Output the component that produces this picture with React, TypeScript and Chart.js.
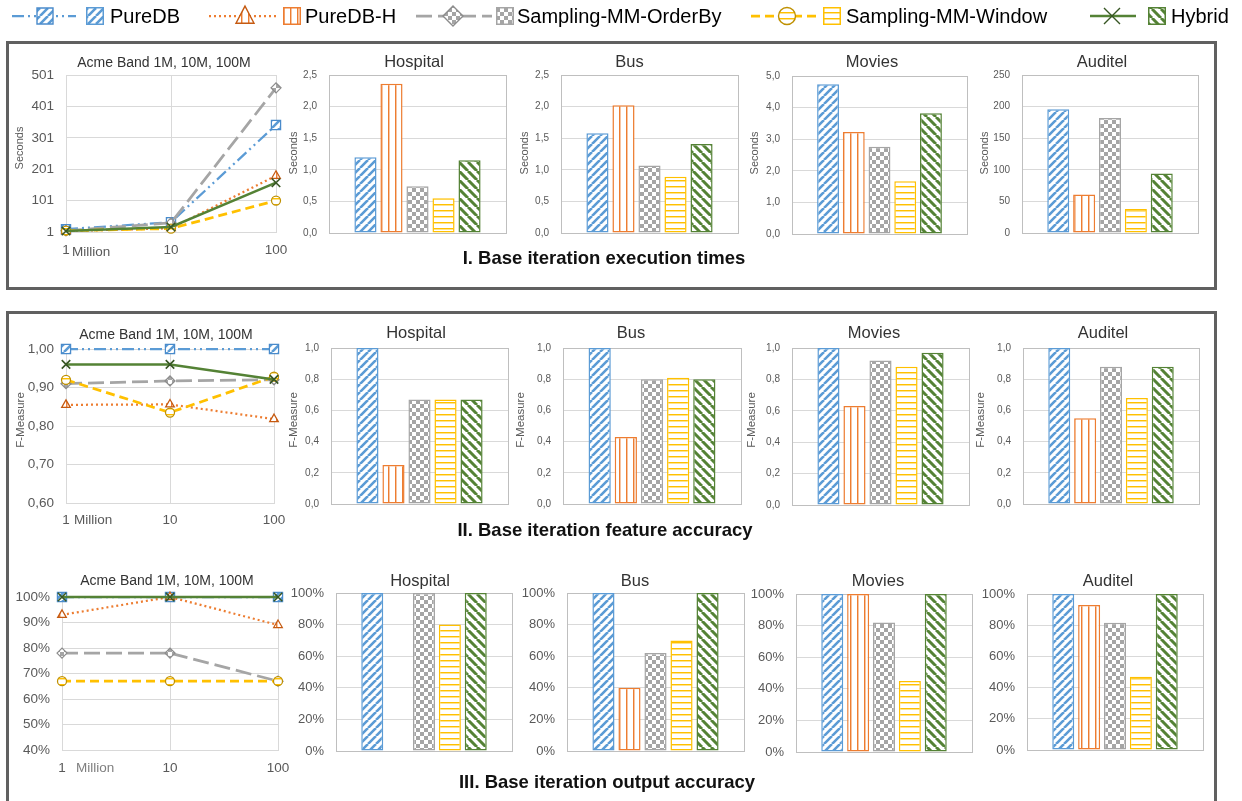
import React, { useEffect, useRef } from "react";
import { Chart, registerables } from "chart.js";

Chart.register(...registerables);

const W = 1242;
const H = 801;
const FONT = "'Liberation Sans', Arial, sans-serif";
Chart.defaults.font.family = FONT;

// ---------------- data ----------------
const METHODS = ["PureDB", "PureDB-H", "Sampling-MM-OrderBy", "Sampling-MM-Window", "Hybrid"];
const SIZE_LABELS = ["1", "10", "100"];
const DATASET_NAMES = ["Hospital", "Bus", "Movies", "Auditel"];
const ACME_TITLE = "Acme Band 1M, 10M, 100M";
const SECTION_TITLES = [
  "I. Base iteration execution times",
  "II. Base iteration feature accuracy",
  "III. Base iteration output accuracy",
];

// I. execution times (seconds)
const acmeTimePureDB = [10, 32, 342];
const acmeTimePureDBH = [4, 13, 180];
const acmeTimeOrderBy = [5, 30, 460];
const acmeTimeWindow = [5, 12, 101];
const acmeTimeHybrid = [4, 17, 158];
const timeHospital = [1.2, 2.36, 0.74, 0.55, 1.15];
const timeBus = [1.58, 2.02, 1.07, 0.89, 1.41];
const timeMovies = [4.74, 3.23, 2.76, 1.67, 3.82];
const timeAuditel = [196, 61, 182, 38, 94];

// II. feature accuracy (F-Measure)
const acmeFPureDB = [1.0, 1.0, 1.0];
const acmeFPureDBH = [0.855, 0.856, 0.818];
const acmeFOrderBy = [0.91, 0.917, 0.92];
const acmeFWindow = [0.92, 0.835, 0.928];
const acmeFHybrid = [0.96, 0.96, 0.921];
const fHospital = [1.0, 0.25, 0.67, 0.67, 0.67];
const fBus = [1.0, 0.43, 0.8, 0.81, 0.8];
const fMovies = [1.0, 0.63, 0.92, 0.88, 0.97];
const fAuditel = [1.0, 0.55, 0.88, 0.68, 0.88];

// III. output accuracy (%)
const acmeOutPureDB = [100, 100, 100];
const acmeOutPureDBH = [93, 100, 89];
const acmeOutOrderBy = [78, 78, 67];
const acmeOutWindow = [67, 67, 67];
const acmeOutHybrid = [100, 100, 100];
const outHospital = [100, null, 100, 80, 100];
const outBus = [100, 40, 62, 70, 100];
const outMovies = [100, 100, 82, 45, 100];
const outAuditel = [100, 93, 81.5, 47, 100];

// ---------------- styles ----------------
const COLORS = ["#5B9BD5", "#ED7D31", "#A5A5A5", "#FFC000", "#548235"];
const MARKER_EDGE = ["#4A8BCB", "#C55A11", "#8C8C8C", "#BF9000", "#375623"];
const DASHES = [[12, 4, 2, 4, 2, 4], [2, 3], [16, 6], [9, 5], []];
const LINE_W = [2.25, 2.25, 2.75, 2.75, 2.5];
const POINT_STYLES = ["rect", "triangle", "rectRot", "circle", "crossRot"];
const POINT_R = [6.5, 5, 5, 4.5, 6];
const TICK_COLOR = "#595959";
const TITLE_COLOR = "#333333";
const GRID = "#D9D9D9";

let PATTERNS: CanvasPattern[] | null = null;
function tile(w: number, h: number, draw: (c: CanvasRenderingContext2D) => void): CanvasPattern {
  const c = document.createElement("canvas");
  c.width = w;
  c.height = h;
  const ctx = c.getContext("2d")!;
  ctx.fillStyle = "#ffffff";
  ctx.fillRect(0, 0, w, h);
  draw(ctx);
  return ctx.createPattern(c, "repeat")!;
}
function getPatterns(): CanvasPattern[] {
  if (PATTERNS) return PATTERNS;
  const up = tile(8, 8, (c) => {
    c.strokeStyle = COLORS[0];
    c.lineWidth = 2.6;
    c.beginPath();
    for (const o of [-8, 0, 8]) {
      c.moveTo(o, 8);
      c.lineTo(o + 8, 0);
    }
    c.stroke();
  });
  const vert = tile(7, 4, (c) => {
    c.fillStyle = COLORS[1];
    c.fillRect(3, 0, 1, 4);
    c.fillStyle = "rgba(237,125,49,0.45)";
    c.fillRect(4, 0, 1, 4);
  });
  const checker = tile(8, 8, (c) => {
    c.fillStyle = COLORS[2];
    c.fillRect(0, 0, 4, 4);
    c.fillRect(4, 4, 4, 4);
  });
  const horiz = tile(4, 6, (c) => {
    c.fillStyle = COLORS[3];
    c.fillRect(0, 0, 4, 1);
    c.fillStyle = "rgba(255,192,0,0.45)";
    c.fillRect(0, 1, 4, 1);
  });
  const down = tile(9, 9, (c) => {
    c.strokeStyle = COLORS[4];
    c.lineWidth = 3;
    c.beginPath();
    for (const o of [-9, 0, 9]) {
      c.moveTo(o, 0);
      c.lineTo(o + 9, 9);
    }
    c.stroke();
  });
  PATTERNS = [up, vert, checker, horiz, down];
  return PATTERNS;
}

// ---------------- panels ----------------
type Txt = {
  text: string;
  x: number;
  y: number;
  size: number;
  color?: string;
  bold?: boolean;
  rotate?: boolean;
  align?: CanvasTextAlign;
};
type Panel = {
  kind: "line" | "bar";
  plot: [number, number, number, number];
  series: (number | null)[][];
  yMin: number;
  yMax: number;
  yStep: number;
  fmt: (v: number) => string;
  tickSize: number;
  xPad?: number;
  texts: Txt[];
};

const comma1 = (v: number) => v.toFixed(1).replace(".", ",");
const comma2 = (v: number) => v.toFixed(2).replace(".", ",");
const int = (v: number) => String(Math.round(v));
const pct = (v: number) => Math.round(v) + "%";
const bars = (vals: (number | null)[]) => vals.map((v) => [v]);

const title = (text: string, x: number, y: number, size = 16.5): Txt => ({ text, x, y, size, color: TITLE_COLOR });
const yTitle = (text: string, x: number, y: number, size: number): Txt => ({ text, x, y, size, color: TICK_COLOR, rotate: true });
const section = (text: string, x: number, y: number): Txt => ({ text, x, y, size: 18.5, bold: true, color: "#111111" });

const PANELS: Panel[] = [
  // Row I
  {
    kind: "line", plot: [66, 75, 276, 232],
    series: [acmeTimePureDB, acmeTimePureDBH, acmeTimeOrderBy, acmeTimeWindow, acmeTimeHybrid],
    yMin: 1, yMax: 501, yStep: 100, fmt: int, tickSize: 13.5, xPad: 10,
    texts: [
      title(ACME_TITLE, 164, 63, 14),
      yTitle("Seconds", 20, 148, 11),
      { text: "Million", x: 72, y: 252, size: 13.5, color: TICK_COLOR, align: "left" },
    ],
  },
  {
    kind: "bar", plot: [329, 75, 506, 233], series: bars(timeHospital),
    yMin: 0, yMax: 2.5, yStep: 0.5, fmt: comma1, tickSize: 10,
    texts: [title(DATASET_NAMES[0], 414, 62), yTitle("Seconds", 294, 153, 11), section(SECTION_TITLES[0], 604, 259)],
  },
  {
    kind: "bar", plot: [561, 75, 738, 233], series: bars(timeBus),
    yMin: 0, yMax: 2.5, yStep: 0.5, fmt: comma1, tickSize: 10,
    texts: [title(DATASET_NAMES[1], 629.5, 62), yTitle("Seconds", 525, 153, 11)],
  },
  {
    kind: "bar", plot: [792, 76, 967, 234], series: bars(timeMovies),
    yMin: 0, yMax: 5, yStep: 1, fmt: comma1, tickSize: 10,
    texts: [title(DATASET_NAMES[2], 872, 62), yTitle("Seconds", 755, 153, 11)],
  },
  {
    kind: "bar", plot: [1022, 75, 1198, 233], series: bars(timeAuditel),
    yMin: 0, yMax: 250, yStep: 50, fmt: int, tickSize: 10,
    texts: [title(DATASET_NAMES[3], 1102, 62), yTitle("Seconds", 985, 153, 11)],
  },
  // Row II
  {
    kind: "line", plot: [66, 349, 274, 503],
    series: [acmeFPureDB, acmeFPureDBH, acmeFOrderBy, acmeFWindow, acmeFHybrid],
    yMin: 0.6, yMax: 1.0, yStep: 0.1, fmt: comma2, tickSize: 13.5, xPad: 9,
    texts: [
      title(ACME_TITLE, 166, 335, 14),
      yTitle("F-Measure", 21, 420, 11.5),
      { text: "Million", x: 74, y: 520, size: 13.5, color: TICK_COLOR, align: "left" },
    ],
  },
  {
    kind: "bar", plot: [331, 348, 508, 504], series: bars(fHospital),
    yMin: 0, yMax: 1, yStep: 0.2, fmt: comma1, tickSize: 10,
    texts: [title(DATASET_NAMES[0], 416, 333.5), yTitle("F-Measure", 294, 420, 11.5), section(SECTION_TITLES[1], 605, 530.5)],
  },
  {
    kind: "bar", plot: [563, 348, 741, 504], series: bars(fBus),
    yMin: 0, yMax: 1, yStep: 0.2, fmt: comma1, tickSize: 10,
    texts: [title(DATASET_NAMES[1], 631, 333.5), yTitle("F-Measure", 521, 420, 11.5)],
  },
  {
    kind: "bar", plot: [792, 348, 969, 505], series: bars(fMovies),
    yMin: 0, yMax: 1, yStep: 0.2, fmt: comma1, tickSize: 10,
    texts: [title(DATASET_NAMES[2], 874, 333.5), yTitle("F-Measure", 752, 420, 11.5)],
  },
  {
    kind: "bar", plot: [1023, 348, 1199, 504], series: bars(fAuditel),
    yMin: 0, yMax: 1, yStep: 0.2, fmt: comma1, tickSize: 10,
    texts: [title(DATASET_NAMES[3], 1103, 333.5), yTitle("F-Measure", 981, 420, 11.5)],
  },
  // Row III
  {
    kind: "line", plot: [62, 597, 278, 750],
    series: [acmeOutPureDB, acmeOutPureDBH, acmeOutOrderBy, acmeOutWindow, acmeOutHybrid],
    yMin: 40, yMax: 100, yStep: 10, fmt: pct, tickSize: 13.5, xPad: 10,
    texts: [
      title(ACME_TITLE, 167, 581, 14),
      { text: "Million", x: 76, y: 768, size: 13.5, color: "#808080", align: "left" },
    ],
  },
  {
    kind: "bar", plot: [336, 593, 512, 751], series: bars(outHospital),
    yMin: 0, yMax: 100, yStep: 20, fmt: pct, tickSize: 13,
    texts: [title(DATASET_NAMES[0], 420, 581), section(SECTION_TITLES[2], 607, 782.5)],
  },
  {
    kind: "bar", plot: [567, 593, 744, 751], series: bars(outBus),
    yMin: 0, yMax: 100, yStep: 20, fmt: pct, tickSize: 13,
    texts: [title(DATASET_NAMES[1], 635, 581)],
  },
  {
    kind: "bar", plot: [796, 594, 972, 752], series: bars(outMovies),
    yMin: 0, yMax: 100, yStep: 20, fmt: pct, tickSize: 13,
    texts: [title(DATASET_NAMES[2], 878, 581)],
  },
  {
    kind: "bar", plot: [1027, 594, 1203, 750], series: bars(outAuditel),
    yMin: 0, yMax: 100, yStep: 20, fmt: pct, tickSize: 13,
    texts: [title(DATASET_NAMES[3], 1108, 581)],
  },
];

function drawText(ctx: CanvasRenderingContext2D, t: Txt) {
  ctx.save();
  ctx.font = `${t.bold ? "bold " : ""}${t.size}px ${FONT}`;
  ctx.fillStyle = t.color || "#000";
  ctx.textAlign = t.align || "center";
  ctx.textBaseline = "middle";
  ctx.translate(t.x, t.y);
  if (t.rotate) ctx.rotate(-Math.PI / 2);
  ctx.fillText(t.text, 0, 0);
  ctx.restore();
}

function makePlugins(p: Panel) {
  const frameColor = p.kind === "bar" ? "#BFBFBF" : GRID;
  return [
    {
      id: "frame",
      beforeDatasetsDraw(chart: any) {
        const { left, top, right, bottom } = chart.chartArea;
        const ctx = chart.ctx;
        ctx.save();
        ctx.strokeStyle = frameColor;
        ctx.lineWidth = 1;
        ctx.strokeRect(Math.round(left) + 0.5, Math.round(top) + 0.5, Math.round(right - left), Math.round(bottom - top));
        ctx.restore();
      },
    },
    {
      id: "decor",
      afterDraw(chart: any) {
        p.texts.forEach((t) => drawText(chart.ctx, t));
      },
    },
  ];
}

function buildConfig(p: Panel): any {
  const pats = getPatterns();
  const [x0, y0, x1, y1] = p.plot;
  const isLine = p.kind === "line";
  const YW = isLine ? 58 : 70;
  const XH = 34;
  const tickFont = { family: FONT, size: p.tickSize };
  const datasets = METHODS.map((name, i) =>
    isLine
      ? {
          label: name,
          data: p.series[i],
          borderColor: COLORS[i],
          borderWidth: LINE_W[i],
          borderDash: DASHES[i],
          pointStyle: POINT_STYLES[i],
          pointRadius: POINT_R[i],
          pointBackgroundColor: pats[i],
          pointBorderColor: MARKER_EDGE[i],
          pointBorderWidth: i === 4 ? 1.6 : 1.25,
          tension: 0,
          fill: false,
          clip: false,
          order: 5 - i,
        }
      : {
          label: name,
          data: p.series[i],
          backgroundColor: pats[i],
          borderColor: COLORS[i],
          borderWidth: 1.5,
          borderSkipped: false,
          categoryPercentage: 0.735,
          barPercentage: 0.85,
        }
  );
  return {
    type: p.kind,
    data: { labels: isLine ? SIZE_LABELS : [""], datasets },
    options: {
      animation: false,
      responsive: false,
      maintainAspectRatio: false,
      events: [],
      layout: {
        autoPadding: false,
        padding: { left: x0 - YW, top: y0, right: W - x1, bottom: H - y1 - (isLine ? XH : 0) },
      },
      plugins: { legend: { display: false }, tooltip: { enabled: false }, title: { display: false } },
      scales: {
        x: isLine
          ? {
              type: "category",
              offset: false,
              afterFit: (s: any) => {
                s.height = XH;
              },
              border: { display: false },
              grid: { color: GRID, drawTicks: false, offset: false },
              ticks: {
                font: tickFont,
                color: TICK_COLOR,
                padding: p.xPad ?? 10,
                maxRotation: 0,
                minRotation: 0,
                autoSkip: false,
              },
            }
          : { type: "category", display: false, offset: true },
        y: {
          min: p.yMin,
          max: p.yMax,
          afterFit: (s: any) => {
            s.width = YW;
          },
          border: { display: false },
          grid: { color: GRID, drawTicks: false, lineWidth: 1 },
          ticks: {
            stepSize: p.yStep,
            font: tickFont,
            color: TICK_COLOR,
            padding: 12,
            autoSkip: false,
            callback: (v: any) => p.fmt(Number(v)),
          },
        },
      },
    },
    plugins: makePlugins(p),
  };
}

function PanelChart({ panel }: { panel: Panel }) {
  const ref = useRef<HTMLCanvasElement>(null);
  useEffect(() => {
    const chart = new Chart(ref.current!, buildConfig(panel));
    return () => chart.destroy();
  }, [panel]);
  return (
    <canvas
      ref={ref}
      width={W}
      height={H}
      style={{ position: "absolute", left: 0, top: 0, width: W, height: H, pointerEvents: "none" }}
    />
  );
}

// ---------------- legend ----------------
const LEGEND_Y = 16;
const LEGEND_ITEMS = [
  { l0: 12, l1: 76, m: 45, mr: 8, p0: 86, t: 110 },
  { l0: 209, l1: 279, m: 245, mr: 9, p0: 283, t: 305 },
  { l0: 416, l1: 492, m: 453, mr: 10, p0: 496, t: 517 },
  { l0: 751, l1: 819, m: 787, mr: 8.5, p0: 823, t: 846 },
  { l0: 1090, l1: 1136, m: 1112, mr: 8, p0: 1148, t: 1171 },
];

function drawMarker(
  ctx: CanvasRenderingContext2D,
  style: string,
  x: number,
  y: number,
  r: number,
  fill: any,
  stroke: string,
  lw: number
) {
  ctx.save();
  ctx.setLineDash([]);
  ctx.beginPath();
  if (style === "rect") ctx.rect(x - r, y - r, 2 * r, 2 * r);
  else if (style === "triangle") {
    ctx.moveTo(x, y - r * 1.1);
    ctx.lineTo(x + r, y + r * 0.8);
    ctx.lineTo(x - r, y + r * 0.8);
    ctx.closePath();
  } else if (style === "rectRot") {
    ctx.moveTo(x, y - r);
    ctx.lineTo(x + r, y);
    ctx.lineTo(x, y + r);
    ctx.lineTo(x - r, y);
    ctx.closePath();
  } else if (style === "circle") ctx.arc(x, y, r, 0, Math.PI * 2);
  else {
    ctx.moveTo(x - r, y - r);
    ctx.lineTo(x + r, y + r);
    ctx.moveTo(x + r, y - r);
    ctx.lineTo(x - r, y + r);
  }
  if (style !== "crossRot") {
    ctx.fillStyle = fill;
    ctx.fill();
  }
  ctx.strokeStyle = stroke;
  ctx.lineWidth = lw;
  ctx.stroke();
  ctx.restore();
}

function Legend() {
  const ref = useRef<HTMLCanvasElement>(null);
  useEffect(() => {
    const ctx = ref.current!.getContext("2d")!;
    const pats = getPatterns();
    ctx.clearRect(0, 0, W, 34);
    LEGEND_ITEMS.forEach((it, i) => {
      ctx.save();
      ctx.strokeStyle = COLORS[i];
      ctx.lineWidth = LINE_W[i];
      ctx.setLineDash(DASHES[i]);
      ctx.beginPath();
      ctx.moveTo(it.l0, LEGEND_Y);
      ctx.lineTo(it.l1, LEGEND_Y);
      ctx.stroke();
      ctx.restore();
      drawMarker(ctx, POINT_STYLES[i], it.m, LEGEND_Y, it.mr, pats[i], MARKER_EDGE[i], 1.4);
      ctx.save();
      ctx.fillStyle = pats[i];
      ctx.fillRect(it.p0, LEGEND_Y - 9, 18, 18);
      ctx.strokeStyle = COLORS[i];
      ctx.lineWidth = 1.5;
      ctx.strokeRect(it.p0 + 0.75, LEGEND_Y - 8.25, 16.5, 16.5);
      ctx.restore();
    });
  }, []);
  return (
    <>
      <canvas ref={ref} width={W} height={34} style={{ position: "absolute", left: 0, top: 0 }} />
      {METHODS.map((m, i) => (
        <span
          key={m}
          style={{
            position: "absolute",
            left: LEGEND_ITEMS[i].t,
            top: LEGEND_Y - 12,
            fontSize: 20,
            lineHeight: "24px",
            fontFamily: FONT,
            color: "#000",
            whiteSpace: "nowrap",
          }}
        >
          {m}
        </span>
      ))}
    </>
  );
}

export default function App() {
  return (
    <div
      style={{
        position: "fixed",
        left: 0,
        top: 0,
        width: W,
        height: H,
        overflow: "hidden",
        background: "#ffffff",
      }}
    >
      <div
        style={{
          position: "absolute",
          left: 6,
          top: 41,
          width: 1211,
          height: 249,
          border: "3px solid #606060",
          boxSizing: "border-box",
        }}
      />
      <div
        style={{
          position: "absolute",
          left: 6,
          top: 311,
          width: 1211,
          height: 520,
          border: "3px solid #606060",
          boxSizing: "border-box",
        }}
      />
      <Legend />
      {PANELS.map((p, i) => (
        <PanelChart key={i} panel={p} />
      ))}
    </div>
  );
}
